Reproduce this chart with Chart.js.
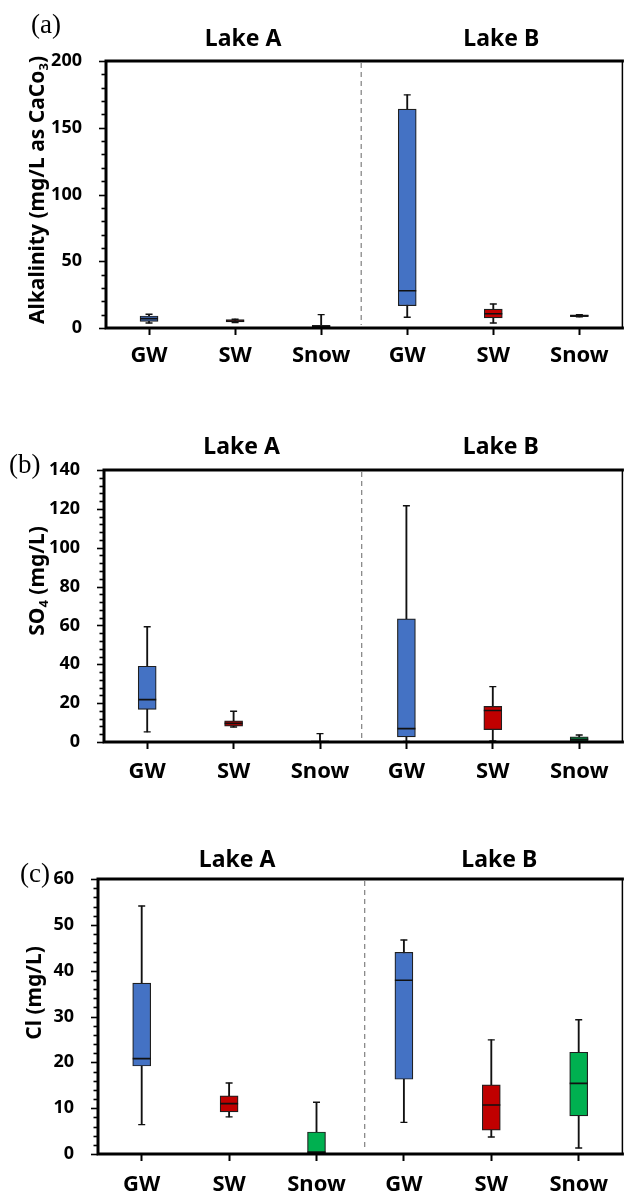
<!DOCTYPE html>
<html>
<head>
<meta charset="utf-8">
<script src="https://cdn.jsdelivr.net/npm/chart.js@4.4.1/dist/chart.umd.min.js"></script>
<style>
  html, body { margin: 0; padding: 0; background: #fff; }
  #wrap { position: relative; width: 633px; height: 1195px; overflow: hidden; }
  #wrap canvas { position: absolute; left: 0; }
</style>
</head>
<body>
<div id="wrap">
  <canvas id="chart-a" width="633" height="380" style="top:0px"></canvas>
  <canvas id="chart-b" width="633" height="410" style="top:385px"></canvas>
  <canvas id="chart-c" width="633" height="395" style="top:800px"></canvas>
</div>
<script>
const categories = ['GW', 'SW', 'Snow', 'GW', 'SW', 'Snow'];
const lakeLabels = ['', 'Lake A', '', '', 'Lake B', ''];
const boxColors = ['#4472C4', '#C00000', '#00B050', '#4472C4', '#C00000', '#00B050'];

// (a) Alkalinity, mg/L as CaCO3
const alkMin    = [3.8, 4.0, 0,   8.0,   3.8,  8.3];
const alkQ1     = [5.0, 4.5, 0,   16.7,  7.5,  8.5];
const alkMedian = [7.0, 5.2, 1.0, 27.9,  10.7, 9.2];
const alkQ3     = [9.0, 6.3, 2.0, 163.9, 14.2, 9.8];
const alkMax    = [10.3, 6.6, 10.0, 174.6, 18.0, 10.0];

// (b) SO4, mg/L
const so4Min    = [5.2,  7.7,  0,   0.3,   0.5,  0.3];
const so4Q1     = [16.8, 8.2,  0,   2.6,   6.4,  0.4];
const so4Median = [21.8, 9.6,  0.2, 6.9,   16.2, 1.4];
const so4Q3     = [39.0, 10.9, 0.4, 63.4,  18.3, 2.6];
const so4Max    = [59.3, 15.8, 4.3, 121.6, 28.5, 3.6];

// (c) Cl, mg/L
const clMin    = [6.4,  8.1,  0,    6.9,  3.7,  1.3];
const clQ1     = [19.2, 9.2,  0,    16.3, 5.2,  8.3];
const clMedian = [20.8, 11.0, 0.4,  37.9, 10.7, 15.4];
const clQ3     = [37.3, 12.7, 4.8,  44.0, 15.1, 22.2];
const clMax    = [54.1, 15.5, 11.3, 46.7, 24.9, 29.3];

const FONT = '"Noto Sans", "DejaVu Sans", sans-serif';

// dashed lake divider, frame, y tick marks, panel tag and y title
const panelDecor = {
  id: 'panelDecor',
  beforeDatasetsDraw(chart, args, opts) {
    const { ctx, chartArea: a, scales: { x } } = chart;
    const xd = (x.getPixelForValue(2) + x.getPixelForValue(3)) / 2 + opts.divShift;
    ctx.save();
    ctx.strokeStyle = '#7f7f7f';
    ctx.lineWidth = 1.2;
    ctx.setLineDash([5, 4]);
    ctx.beginPath();
    ctx.moveTo(xd, a.top + 2);
    ctx.lineTo(xd, a.bottom - 3);
    ctx.stroke();
    ctx.restore();
  },
  afterDatasetsDraw(chart, args, opts) {
    const { ctx, chartArea: a, scales: { y } } = chart;
    ctx.save();
    ctx.strokeStyle = '#000';
    ctx.lineCap = 'square';
    ctx.lineWidth = 3;
    ctx.beginPath();
    ctx.moveTo(a.right, a.top); ctx.lineTo(a.left, a.top);
    ctx.lineTo(a.left, a.bottom); ctx.lineTo(a.right, a.bottom);
    ctx.stroke();
    ctx.lineWidth = 1.5;
    ctx.beginPath();
    ctx.moveTo(a.right, a.top); ctx.lineTo(a.right, a.bottom);
    ctx.stroke();

    // major and minor y ticks
    ctx.lineCap = 'butt';
    ctx.lineWidth = 1.6;
    for (let v = y.min; v <= y.max + 1e-9; v += opts.minor) {
      const py = Math.round(y.getPixelForValue(v)) + 0.5;
      const len = v % opts.major === 0 ? 7 : 4.5;
      ctx.beginPath();
      ctx.moveTo(a.left - len, py);
      ctx.lineTo(a.left, py);
      ctx.stroke();
    }

    // panel tag
    ctx.fillStyle = '#000';
    ctx.font = '27px "Liberation Serif", "Times New Roman", serif';
    ctx.textAlign = 'left';
    ctx.textBaseline = 'middle';
    ctx.fillText(opts.tag, opts.tagX, opts.tagY);

    // y title with subscripts
    const mainFont = 'bold 21px ' + FONT;
    const subFont = 'bold 13px ' + FONT;
    let total = 0;
    opts.title.forEach(([t, sub]) => {
      ctx.font = sub ? subFont : mainFont;
      total += ctx.measureText(t).width;
    });
    ctx.translate(opts.titleX, opts.titleY);
    ctx.rotate(-Math.PI / 2);
    ctx.textBaseline = 'alphabetic';
    let cx = -total / 2;
    opts.title.forEach(([t, sub]) => {
      ctx.font = sub ? subFont : mainFont;
      ctx.fillText(t, cx, sub ? 11.5 : 7.5);
      cx += ctx.measureText(t).width;
    });
    ctx.restore();
  }
};

function makePanel(id, p) {
  const canvas = document.getElementById(id);
  const H = canvas.height;
  return new Chart(canvas, {
    type: 'bar',
    data: {
      labels: categories,
      datasets: [
        {
          type: 'line', data: p.median, showLine: false,
          pointStyle: 'line', pointRadius: 9, pointHoverRadius: 9,
          pointBorderWidth: 1.6, pointBorderColor: '#111', order: 1
        },
        {
          type: 'line', data: p.max, showLine: false,
          pointStyle: 'line', pointRadius: 3.5, pointHoverRadius: 3.5,
          pointBorderWidth: 1.4, pointBorderColor: '#111', order: 1
        },
        {
          type: 'line', data: p.min, showLine: false,
          pointStyle: 'line', pointRadius: 3.5, pointHoverRadius: 3.5,
          pointBorderWidth: 1.4, pointBorderColor: '#111', order: 1
        },
        {
          data: p.q1.map((v, i) => [v, p.q3[i]]),
          backgroundColor: boxColors, borderColor: '#1f1f1f', borderWidth: 1.2,
          borderSkipped: false, barThickness: 18, grouped: false, order: 2
        },
        {
          data: p.min.map((v, i) => [v, p.max[i]]),
          backgroundColor: '#111', borderWidth: 0,
          barThickness: 1.2, grouped: false, order: 3
        }
      ]
    },
    options: {
      responsive: false,
      animation: false,
      devicePixelRatio: 1,
      layout: { padding: { top: 0, left: 0, right: 2, bottom: 0 } },
      plugins: {
        legend: { display: false },
        tooltip: { enabled: false },
        panelDecor: p.decor
      },
      scales: {
        x: {
          grid: { display: true, drawOnChartArea: false, offset: false, tickLength: 7, tickWidth: 2, tickColor: '#000' },
          border: { display: false },
          ticks: { color: '#000', autoSkip: false, maxRotation: 0, padding: p.labelGap - 7 - 13.2,
                   font: { family: FONT, size: 22, weight: 'bold' } },
          afterFit: s => { s.height = H - p.plotBottom; }
        },
        x2: {
          type: 'category', labels: lakeLabels, position: 'top', offset: true,
          grid: { display: false }, border: { display: false },
          ticks: { color: '#000', autoSkip: false, maxRotation: 0, labelOffset: 8,
                   padding: p.lakeGap - 23,
                   font: { family: FONT, size: 23, weight: 'bold' } },
          afterFit: s => { s.height = p.plotTop; }
        },
        y: {
          min: 0, max: p.yMax,
          grid: { display: false }, border: { display: false },
          ticks: { stepSize: p.decor.major, color: '#000', padding: 16,
                   font: { family: FONT, size: 18, weight: 'bold' } },
          afterFit: s => { s.width = p.left; }
        }
      }
    },
    plugins: [panelDecor]
  });
}

makePanel('chart-a', {
  min: alkMin, q1: alkQ1, median: alkMedian, q3: alkQ3, max: alkMax,
  yMax: 200, plotTop: 61, plotBottom: 328, left: 106, labelGap: 28, lakeGap: 23,
  decor: { major: 50, minor: 10, tag: '(a)', tagX: 31, tagY: 26, titleX: 36, titleY: 190, divShift: -3,
           title: [['Alkalinity (mg/L as CaCo', 0], ['3', 1], [')', 0]] }
});

makePanel('chart-b', {
  min: so4Min, q1: so4Q1, median: so4Median, q3: so4Q3, max: so4Max,
  yMax: 140, plotTop: 85, plotBottom: 357, left: 104, labelGap: 30, lakeGap: 24,
  decor: { major: 20, minor: 4, tag: '(b)', tagX: 9, tagY: 81, titleX: 36, titleY: 196, divShift: -1.5,
           title: [['SO', 0], ['4', 1], [' (mg/L)', 0]] }
});

makePanel('chart-c', {
  min: clMin, q1: clQ1, median: clMedian, q3: clQ3, max: clMax,
  yMax: 60, plotTop: 79, plotBottom: 354, left: 98, labelGap: 31, lakeGap: 20,
  decor: { major: 10, minor: 2, tag: '(c)', tagX: 20, tagY: 75, titleX: 33, titleY: 193, divShift: 4.5,
           title: [['Cl (mg/L)', 0]] }
});
</script>
</body>
</html>
